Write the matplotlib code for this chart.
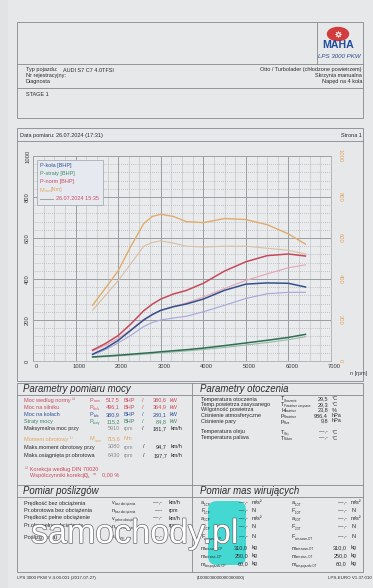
import matplotlib
matplotlib.use("Agg")
import matplotlib.pyplot as plt
import matplotlib.patheffects as pe
from matplotlib.patches import Rectangle, Ellipse, FancyBboxPatch
from matplotlib.transforms import ScaledTranslation

plt.rcParams['font.family'] = ['Liberation Sans', 'DejaVu Sans']

# --- data ---
rpm = [1400, 1700, 2000, 2300, 2600, 2800, 3000, 3300, 3600, 4000, 4500, 5000, 5500, 6000, 6400]

# current run (STAGE 1)
p_norm = [53, 85, 124, 181, 245, 277, 302, 327, 344, 379, 439, 484, 514, 522, 512]
p_kola = [33, 62, 100, 150, 200, 226, 247, 265, 278, 302, 345, 375, 381, 379, 361]
p_straty = [20, 24, 28, 33, 38, 41, 45, 50, 55, 63, 75, 88, 101, 115, 130]
m_norm = [272, 355, 440, 560, 670, 705, 716, 705, 680, 675, 695, 690, 665, 620, 570]

# comparison run 26.07.2024 15:35
p_norm_ref = [49, 76, 110, 153, 204, 227, 247, 266, 283, 312, 354, 393, 425, 455, 469]
p_kola_ref = [30, 55, 88, 125, 168, 188, 200, 210, 218, 240, 272, 305, 328, 335, 335]
p_straty_ref = [18, 21, 25, 29, 33, 36, 40, 44, 49, 56, 66, 78, 90, 104, 118]
m_norm_ref = [248, 320, 392, 475, 560, 578, 586, 575, 560, 556, 560, 560, 550, 540, 522]

x_ticks = [0, 1000, 2000, 3000, 4000, 5000, 6000, 7000]
y_ticks = [0, 200, 400, 600, 800, 1000]

W, H = 373, 588
BG = '#e2e3e5'
LINE = '#85888d'
INK = '#2b2b2e'
GREY = '#8c8c90'
RED = '#cc4a5c'
BLUE = '#2d4f98'
GREEN = '#3f8a68'
ORANGE = '#e2a560'
FS = 4.0
SUB = 2.2

fig = plt.figure(figsize=(W / 100, H / 100), dpi=100, facecolor=BG)
page = fig.add_axes([0, 0, 1, 1], zorder=0)
page.set_xlim(0, W)
page.set_ylim(H, 0)
page.axis('off')


def txt(x, y, s, size=FS, color=INK, ha='left', va='center', **kw):
    return fig.text(x / W, 1 - y / H, s, fontsize=size, color=color, ha=ha, va=va, **kw)


def sym(x, y, main, sub, color=INK, gap=3.4):
    txt(x, y, main, color=color)
    txt(x + gap, y + 1.5, sub, size=SUB, color=color)


def hl(y, x0=17, x1=363):
    page.plot([x0, x1], [y, y], color=LINE, lw=0.6)


def vl(x, y0, y1):
    page.plot([x, x], [y0, y1], color=LINE, lw=0.6)


# page background and boxes
page.add_patch(Rectangle((8, 0), W - 8, H, color='#e7e8ea', zorder=0))
page.add_patch(Rectangle((17, 22), 346, 96, fill=False, ec=LINE, lw=0.6))
vl(317, 22, 64)
hl(64)
hl(88)
page.add_patch(Rectangle((17, 128), 346, 253, fill=False, ec=LINE, lw=0.6))
hl(141)
page.add_patch(Rectangle((17, 383), 346, 189, fill=False, ec=LINE, lw=0.6))
vl(192, 383, 572)
hl(395)
hl(485)
hl(497)

# logo
page.add_patch(Ellipse((338, 34), 21, 13, color='#d23c3c'))
page.plot(338, 34, marker=(8, 1, 0), color='white', ms=5.5, mew=0)
page.plot(338, 34, marker='o', color='#d23c3c', ms=1.6, mew=0)
txt(338, 44.5, 'MAHA', size=7.6, color='#1f4c9c', ha='center', weight='bold')
txt(339, 57, 'LPS 3000 PKW', size=4.4, color='#2a4a8a', ha='center', style='italic')

# vehicle header
txt(25.5, 70, 'Typ pojazdu:')
txt(63, 70, 'AUDI S7 C7 4.0TFSI')
txt(25.5, 76, 'Nr rejestracyjny:')
txt(25.5, 81.7, 'Diagnosta')
txt(362, 70, 'Otto / Turbolader (chłodzone powietrzem)', ha='right')
txt(362, 76, 'Skrzynia manualna', ha='right')
txt(362, 81.7, 'Napęd na 4 koła', ha='right')
txt(25.5, 94, 'STAGE 1')
txt(20.5, 135.5, 'Data pomiaru: 26.07.2024 (17:31)')
txt(362, 135.5, 'Strona 1', ha='right')

# --- chart ---
ax = fig.add_axes([33 / W, 1 - 361 / H, 298 / W, 205 / H], zorder=2)
ax.set_facecolor('#eaebed')
ax.set_xlim(0, 7000)
ax.set_ylim(0, 1000)
ax.set_xticks(x_ticks)
ax.set_xticklabels([str(v) for v in x_ticks])
ax.set_xticks(range(0, 7001, 250), minor=True)
ax.set_yticks(y_ticks)
ax.set_yticklabels([str(v) for v in y_ticks], rotation=90, va='center')
ax.set_yticks(range(0, 1001, 40), minor=True)
ax.tick_params(which='both', length=0, labelsize=FS + 0.2, labelcolor='#3a3a3e', pad=2)
ax.grid(which='major', color='#9a9da2', lw=0.7)
ax.grid(which='minor', axis='x', color='#c0c2c6', lw=0.45)
ax.grid(which='minor', axis='y', color='#9a9ca1', lw=0.5, ls=(0, (1, 2)))
for s in ax.spines.values():
    s.set_color('#a0a2a6')
    s.set_linewidth(0.5)
off = ScaledTranslation(3.5 / 100, 0, fig.dpi_scale_trans)
for lbl in ax.get_xticklabels():
    lbl.set_transform(lbl.get_transform() + off)

ax2 = ax.twinx()
ax2.set_ylim(0, 1000)
ax2.set_yticks(y_ticks)
ax2.set_yticklabels([str(v) for v in y_ticks], rotation=270, va='center')
ax2.tick_params(length=0, labelsize=FS + 0.2, labelcolor=ORANGE, pad=5)
for s in ax2.spines.values():
    s.set_visible(False)

# comparison run (lighter)
ax.plot(rpm, p_straty_ref, color='#98bca6', lw=0.8)
ax.plot(rpm, p_kola_ref, color='#a4a6dc', lw=0.8)
ax.plot(rpm, p_norm_ref, color='#e3a6b6', lw=0.8)
ax2.plot(rpm, m_norm_ref, color='#d9bfa4', lw=0.8)
# current run
ax.plot(rpm, p_straty, color='#2e6e52', lw=1.1)
ax.plot(rpm, p_kola, color='#34508c', lw=1.1)
ax.plot(rpm, p_norm, color='#c44a5c', lw=1.1)
ax2.plot(rpm, m_norm, color='#e0ac6c', lw=1.0)

txt(350, 374, 'n [rpm]', color='#3a3a3e')

# legend box
fig.add_artist(Rectangle((37 / W, 1 - 205 / H), 66 / W, 45 / H, transform=fig.transFigure,
                         fc='#e6eaf0', ec='#9ea2a8', lw=0.5, zorder=4))
txt(40, 166, 'P-koła [BHP]', color=BLUE, zorder=5)
txt(40, 174, 'P-straty [BHP]', color=GREEN, zorder=5)
txt(40, 182, 'P-norm [BHP]', color=RED, zorder=5)
txt(40, 190, 'M', color=ORANGE, zorder=5)
txt(44.5, 191.5, 'norm', size=SUB, color=ORANGE, zorder=5)
txt(51, 190, '[Nm]', color=ORANGE, zorder=5)
fig.add_artist(plt.Line2D([40 / W, 53 / W], [1 - 199 / H, 1 - 199 / H], transform=fig.transFigure,
                          color='#b0a090', lw=0.7, zorder=5))
txt(56, 199, '26.07.2024 15:35', color=RED, zorder=5)

# --- Parametry pomiaru mocy ---
txt(23, 388.5, 'Parametry pomiaru mocy', size=6.9, style='italic')
power_rows = [
    ('Moc według normy ¹⁾', 'norm', '517,5', '380,6', RED),
    ('Moc na silniku', 'silnik', '496,1', '364,9', RED),
    ('Moc na kołach', 'koła', '380,9', '280,1', BLUE),
    ('Straty mocy', 'straty', '115,2', '84,8', GREEN),
]
for i, (lab, sub, bhp, kw, c) in enumerate(power_rows):
    y = 400 + 7.2 * i
    txt(24, y, lab, color=c)
    sym(90, y, 'P', sub, color=c)
    txt(120, y, bhp, color=c, ha='right')
    txt(124, y, 'BHP', color=c)
    txt(142, y, '/', color=c)
    txt(167, y, kw, color=c, ha='right')
    txt(170, y, 'kW', color=c)

txt(24, 428.5, 'Maksymalna moc przy')
txt(120, 428.5, '5910', color=GREY, ha='right')
txt(124, 428.5, 'rpm', color=GREY)
txt(142, 428.5, '/')
txt(167, 428.5, '181,7', ha='right')
txt(171, 428.5, 'km/h')

txt(24, 439, 'Moment obrotowy ¹⁾', color=ORANGE)
sym(90, 439, 'M', 'norm', color=ORANGE, gap=4.4)
txt(120, 439, '715,6', color=ORANGE, ha='right')
txt(124, 439, 'Nm', color=ORANGE)
for y, lab, n, v in [(447, 'Maks.moment obrotowy przy', '3080', '94,7'),
                     (455.5, 'Maks.osiągnięta pr.obrotowa', '6430', '197,7')]:
    txt(24, y, lab)
    txt(120, y, n, color=GREY, ha='right')
    txt(124, y, 'rpm', color=GREY)
    txt(143, y, '/')
    txt(167, y, v, ha='right')
    txt(171, y, 'km/h')
txt(25, 468.5, '¹⁾ Korekcja według DIN 70020', color=RED)
txt(30, 475, 'Współczynniki korekcji:', color=RED)
sym(84, 475, 'Q', 'c', color=RED, gap=3.8)
txt(93, 475, '=', color=RED)
txt(102, 475, '0,00 %', color=RED)

# --- Pomiar poślizgów ---
txt(23, 491.5, 'Pomiar poślizgów', size=6.9, style='italic')
slip_rows = [
    ('Prędkość bez obciążenia', 'v', 'bez obciążenia', '—,-', 'km/h'),
    ('Pr.obrotowa bez obciążenia', 'n', 'bez obciążenia', '—-', 'rpm'),
    ('Prędkość pełne obciążenie', 'v', 'pełne obciążenie', '—,-', 'km/h'),
    ('Pr.obr. pełne obciążenie', 'n', 'pełne obciążenie', '—-', 'rpm'),
    ('Poślizg (koła)', 's', 'poślizg', '—,-', '%'),
]
for (lab, s, sub, val, unit), y in zip(slip_rows, [503, 510.5, 518, 526, 537]):
    txt(24, y, lab)
    sym(112, y, s, sub, gap=2.8)
    txt(162, y, val, ha='right')
    txt(169, y, unit)

# --- Parametry otoczenia ---
txt(200, 388.5, 'Parametry otoczenia', size=6.9, style='italic')
env_rows = [
    ('Temperatura otoczenia', 'T', 'Otoczenie', '29,5', '°C'),
    ('Temp.powietrza zasysanego', 'T', 'Powietrze zasysane', '29,3', '°C'),
    ('Wilgotność powietrza', 'H', 'Powietrze', '23,8', '%'),
    ('Ciśnienie atmosferyczne', 'p', 'Powietrze', '986,4', 'hPa'),
    ('Ciśnienie pary', 'p', 'Para', '9,8', 'hPa'),
    ('Temperatura oleju', 'T', 'Olej', '—,-', '°C'),
    ('Temperatura paliwa', 'T', 'Paliwo', '—,-', '°C'),
]
for (lab, s, sub, val, unit), y in zip(env_rows, [399, 404.5, 410, 415.5, 421, 432, 438]):
    txt(201, y, lab)
    sym(281, y, s, sub, gap=3.0)
    txt(328, y, val, ha='right')
    txt(332, y, unit)

# --- Pomiar mas wirujących ---
txt(200, 491.5, 'Pomiar mas wirujących', size=6.9, style='italic')
mass_rows = [
    ('a', '1-CP', '1-OT', '—,-', 'm/s²'),
    ('F', '1-CP', '1-OT', '—,-', 'N'),
    ('a', '2-CP', '2-OT', '—,-', 'm/s²'),
    ('F', '2-CP', '2-OT', '—,-', 'N'),
    ('F', 'wir.nasm-CP', 'wir.nasm-OT', '—,-', 'N'),
    ('m', 'wir.nasm-CP', 'wir.nasm-OT', '310,0', 'kg'),
    ('m', 'wir.stan.-CP', 'wir.stan.-OT', '250,0', 'kg'),
    ('m', 'wir.pojazdu-CP', 'wir.pojazdu-OT', '60,0', 'kg'),
]
for (s, sub1, sub2, val, unit), y in zip(mass_rows, [503, 511, 518.5, 527, 537, 548, 556, 564]):
    g = 4.3 if s == 'm' else 3.0
    sym(201, y, s, sub1, gap=g)
    txt(248, y, val, ha='right')
    txt(252, y, unit)
    sym(292, y, s, sub2, gap=g)
    txt(347, y, val, ha='right')
    txt(351, y, unit)

# footer
txt(17, 578, 'LPS 3000 PKW V 4.00.001 (2017-07-27)', size=3.2)
txt(197, 578, '(1000000000000000000)', size=3.2)
txt(372, 578, 'LPS-EURO V1.37.010', size=3.2, ha='right')

# watermark
page.add_patch(FancyBboxPatch((208, 501), 38, 64, boxstyle='round,pad=0,rounding_size=9',
                              fc='#44d8d2', ec='none', zorder=5))
wm = txt(31, 543, 'samochody.pl', size=24.5, color='white', va='baseline', zorder=6)
wm.set_path_effects([pe.Stroke(linewidth=1.0, foreground='#6a6c70'), pe.Normal()])

fig.savefig('out.png', dpi=100, facecolor=BG)
